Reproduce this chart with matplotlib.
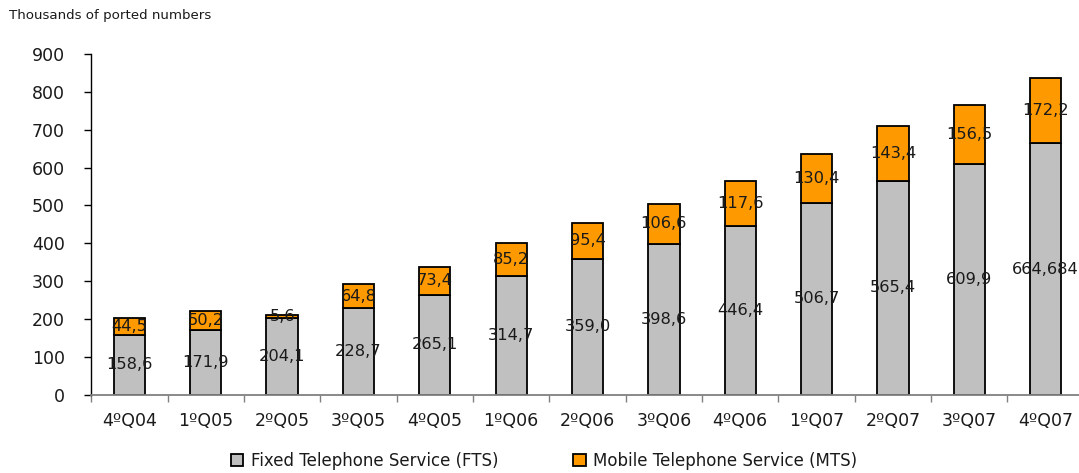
import numpy as np
import matplotlib
matplotlib.use("Agg")
import matplotlib.pyplot as plt

quarters = ["4ºQ04", "1ºQ05", "2ºQ05", "3ºQ05", "4ºQ05", "1ºQ06", "2ºQ06",
            "3ºQ06", "4ºQ06", "1ºQ07", "2ºQ07", "3ºQ07", "4ºQ07"]
fts = [158.6, 171.9, 204.1, 228.7, 265.1, 314.7, 359.0, 398.6, 446.4,
       506.7, 565.4, 609.9, 664.684]
mts = [44.5, 50.2, 5.6, 64.8, 73.4, 85.2, 95.4, 106.6, 117.6, 130.4,
       143.4, 156.5, 172.2]
fts_labels = ["158,6", "171,9", "204,1", "228,7", "265,1", "314,7", "359,0",
              "398,6", "446,4", "506,7", "565,4", "609,9", "664,684"]
mts_labels = ["44,5", "50,2", "5,6", "64,8", "73,4", "85,2", "95,4", "106,6",
              "117,6", "130,4", "143,4", "156,5", "172,2"]

plt.rcParams['font.family'] = ['DejaVu Sans']

fig = plt.figure(figsize=(10.79, 4.73), dpi=100)
# the plot area runs a little past the right edge of the figure
ax = fig.add_axes([0.0845, 0.165, 0.92, 0.721])

x = np.arange(len(quarters))
w = 0.41
b1 = ax.bar(x, fts, w, color="#c0c0c0", edgecolor="black", linewidth=1.3,
            label="Fixed Telephone Service (FTS)")
b2 = ax.bar(x, mts, w, bottom=fts, color="#ff9900", edgecolor="black",
            linewidth=1.3, label="Mobile Telephone Service (MTS)")

for i in range(len(x)):
    ax.text(x[i], fts[i] / 2, fts_labels[i], ha="center", va="center",
            fontsize=11.7, color="#1a1a1a")
    ax.text(x[i], fts[i] + mts[i] / 2, mts_labels[i], ha="center",
            va="center", fontsize=11.7, color="#1a1a1a")

ax.set_xlim(-0.5, len(x) - 0.5)
ax.set_ylim(0, 900)
ax.set_yticks(range(0, 901, 100))
ax.set_xticks(x)
ax.set_xticklabels(quarters)
ax.set_xticks(np.arange(-0.5, len(x), 1), minor=True)
ax.tick_params(axis="x", which="major", length=0, pad=12, labelsize=12.5,
               labelcolor="#1a1a1a")
ax.tick_params(axis="x", which="minor", length=5, color="#808080", width=1)
ax.tick_params(axis="y", length=5, width=1, labelsize=12.5, pad=14,
               labelcolor="#1a1a1a")

for s in ["top", "right"]:
    ax.spines[s].set_visible(False)
ax.spines["bottom"].set_color("#808080")
ax.spines["bottom"].set_linewidth(1.3)
ax.spines["left"].set_linewidth(1.0)

fig.text(0.008, 0.968, "Thousands of ported numbers", fontsize=9.6,
         ha="left", va="center", color="#1a1a1a")

fig.legend(handles=[b1, b2], loc="lower center", ncol=2, frameon=False,
           bbox_to_anchor=(0.504, -0.025), fontsize=12, handlelength=0.75,
           handleheight=0.75, columnspacing=4.5, handletextpad=0.45,
           labelcolor="#1a1a1a")

fig.savefig("out.png", dpi=100)
